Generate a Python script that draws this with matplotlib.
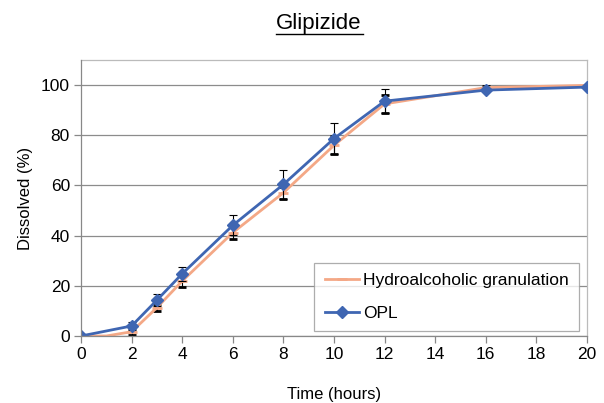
import matplotlib
matplotlib.use("Agg")
import matplotlib.pyplot as plt

plt.rcParams['font.family'] = ['Liberation Sans', 'DejaVu Sans']

time_hydro = [0, 0.5, 1, 2, 3, 4, 6, 8, 10, 12, 16, 20]
hydro = [0, 0, 0, 1.7, 11.3, 21.9, 41.2, 57.1, 76.0, 92.5, 99.0, 99.9]
hydro_err = [0, 0, 0, 1.4, 1.5, 2.3, 2.7, 2.3, 3.6, 3.5, 0.5, 0.3]

time_opl = [0, 2, 3, 4, 6, 8, 10, 12, 16, 20]
opl = [0, 4.0, 14.3, 24.8, 44.1, 60.4, 78.7, 93.6, 98.0, 99.2]
opl_err = [0, 1.6, 2.3, 2.8, 4.0, 5.6, 6.0, 4.7, 0.5, 0.3]

x_ticks = [0, 2, 4, 6, 8, 10, 12, 14, 16, 18, 20]
y_ticks = [0, 20, 40, 60, 80, 100]

fig = plt.figure(figsize=(6.04, 4.03), dpi=100)
ax = fig.add_axes([81/604, 1-336/403, (587-81)/604, (336-60)/403])

orange = '#F4A886'
blue = '#3F66B2'

ax.errorbar(time_hydro, hydro, yerr=hydro_err, color=orange, lw=2, marker='_',
            ms=7, mew=2, ecolor='black', elinewidth=0.8, capsize=3, capthick=0.8,
            label='Hydroalcoholic granulation', zorder=3)
ax.errorbar(time_opl, opl, yerr=opl_err, color=blue, lw=2, marker='D',
            ms=6.5, ecolor='black', elinewidth=0.8, capsize=3, capthick=0.8,
            label='OPL', zorder=4)

ax.set_xlim(0, 20)
ax.set_ylim(0, 110)
ax.set_xticks(x_ticks)
ax.set_yticks(y_ticks)
ax.tick_params(labelsize=12.5, length=5, color='#888888', width=0.9, pad=3)
ax.grid(axis='y', color='#8c8c8c', lw=0.9)
ax.set_axisbelow(True)
for side in ['top', 'right']:
    ax.spines[side].set_color('#bbbbbb')
for side in ['left', 'bottom']:
    ax.spines[side].set_color('#888888')
for s in ax.spines.values():
    s.set_linewidth(0.9)
ax.spines['left'].set_zorder(5)
ax.spines['bottom'].set_zorder(5)

ax.set_xlabel('Time (hours)', fontsize=12, labelpad=18)
ax.set_ylabel('Dissolved (%)', fontsize=12, labelpad=6)

fig.text(319/604, 1-24/403, 'Glipizide', fontsize=16, ha='center', va='center')
fig.add_artist(plt.Line2D([276/604, 363/604], [1-33.5/403, 1-33.5/403], color='black', lw=1))

handles, labels = ax.get_legend_handles_labels()
handles = [h[0] for h in handles]
leg = ax.legend(handles, labels, loc='lower right', bbox_to_anchor=(579/604, 1-331/403),
                bbox_transform=fig.transFigure, fontsize=12.5, frameon=True, fancybox=False,
                edgecolor='#999999', borderpad=0.6, labelspacing=1.0, handlelength=2.0,
                handletextpad=0.2, borderaxespad=0)
leg.get_frame().set_linewidth(0.9)

fig.savefig('out.png', dpi=100)
